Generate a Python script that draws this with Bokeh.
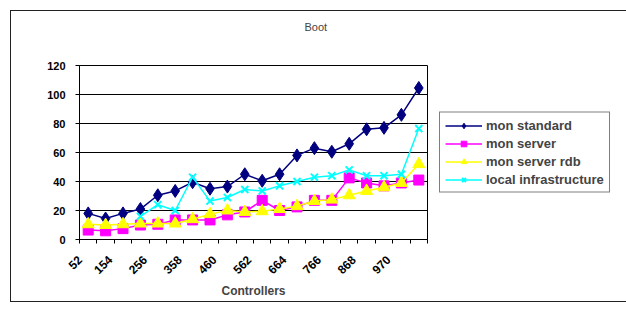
import math
from bokeh.plotting import figure
from bokeh.models import FixedTicker, Legend, LegendItem, Range1d, Title
from bokeh.embed import file_html
from bokeh.resources import INLINE

controllers = [52, 103, 154, 205, 256, 307, 358, 409, 460, 511,
               562, 613, 664, 715, 766, 817, 868, 919, 970, 1021]
mon_standard = [18, 14.5, 18, 21, 30.5, 33.5, 39.5, 35, 36.5, 45,
                40.5, 45, 58, 63, 60.5, 66, 76, 77, 86, 104.5]
mon_server = [6.5, 6, 7.5, 10, 10.5, 13.5, 13.5, 13.5, 17, 19,
              27, 20, 22.5, 27, 27, 42.5, 39, 37, 39, 41]
mon_server_rdb = [10.5, 10, 10.5, 11, 11, 11, 14, 17.5, 20, 19,
                  19.5, 21, 23, 26.5, 27.5, 30.5, 33.5, 36, 39, 52]
local_infrastructure = [float("nan"), float("nan"), float("nan"), 16, 24, 20, 43, 26.5, 29, 34.5,
                        33.5, 37, 40, 43, 44, 48, 44, 44, 45, 76.5]
y_ticks = [0, 20, 40, 60, 80, 100, 120]

FONT = "Liberation Sans"
xs = list(range(len(controllers)))

p = figure(frame_width=348, frame_height=174, output_backend="svg", toolbar_location=None,
           x_range=Range1d(-0.5, len(controllers) - 0.5), y_range=Range1d(0, 120),
           min_border_left=68, min_border_right=196, min_border_top=54, min_border_bottom=57)
p.styles = {"margin-left": "10px", "margin-top": "10px",
            "border-left": "1px solid #222", "border-top": "1px solid #222",
            "border-bottom": "1px solid #222"}
p.background_fill_color = "white"
p.border_fill_color = "white"
p.outline_line_color = "black"
p.outline_line_width = 1

# chart title (outermost)
p.title.text = "Boot"
p.title.text_font = FONT
p.title.text_font_style = "normal"
p.title.text_font_size = "11px"
p.title.align = "left"
p.title.offset = 225
p.title.standoff = 0

# spacer between frame and the chart title
spacer = Title(text=" ", text_font=FONT, text_font_size="11px", standoff=19)
p.add_layout(spacer, "above")

# axes: labels sit just left of every other category, ticks at category bounds
label_pos = [max(i - 0.75, -0.49) for i in xs[::2]]
p.xaxis.ticker = FixedTicker(ticks=label_pos,
                             minor_ticks=[i - 0.5 for i in range(len(controllers) + 1)])
p.xaxis.major_label_overrides = {pos: str(controllers[i]) for pos, i in zip(label_pos, xs[::2])}
p.xaxis.major_label_orientation = math.pi / 4
p.xaxis.major_tick_out = 0
p.xaxis.major_tick_in = 0
p.xaxis.minor_tick_out = 4
p.xaxis.minor_tick_in = 0
p.xaxis.minor_tick_line_color = "black"
p.xaxis.axis_label = "Controllers"
p.xaxis.axis_label_text_font = FONT
p.xaxis.axis_label_text_font_style = "bold"
p.xaxis.axis_label_text_font_size = "12px"
p.xaxis.axis_label_standoff = 3
p.xaxis.major_label_standoff = 14

p.yaxis.ticker = FixedTicker(ticks=y_ticks)
p.yaxis.minor_tick_line_color = None
p.yaxis.major_tick_out = 4
p.yaxis.major_tick_in = 0
p.yaxis.major_label_standoff = 10

for ax in (p.xaxis, p.yaxis):
    ax.axis_line_color = "black"
    ax.major_tick_line_color = "black"
    ax.major_label_text_font = FONT
    ax.major_label_text_font_style = "bold"
    ax.major_label_text_color = "black"
p.yaxis.major_label_text_font_size = "11px"
p.xaxis.major_label_text_font_size = "12px"

p.xgrid.grid_line_color = None
p.ygrid.grid_line_color = "black"
p.ygrid.grid_line_alpha = 1

series = [
    ("mon standard", mon_standard, "#000080", "diamond", 13),
    ("mon server", mon_server, "#FF00FF", "square", 10),
    ("mon server rdb", mon_server_rdb, "#FFFF00", "triangle", 12),
    ("local infrastructure", local_infrastructure, "#00FFFF", "x", 10),
]
items = []
for name, ys, color, marker, size in series:
    r1 = p.line(xs, ys, line_color=color, line_width=1.5)
    r2 = p.scatter(xs, ys, marker=marker, size=size, fill_color=color,
                   line_color=color, line_width=2 if marker == "x" else 1)
    items.append(LegendItem(label=name, renderers=[r1, r2]))

legend = Legend(items=items, location="center_left", margin=12,
                label_text_font=FONT, label_text_font_style="bold",
                label_text_font_size="13px", glyph_width=37, glyph_height=14,
                label_standoff=4, spacing=3, padding=5,
                border_line_color="black", border_line_width=1,
                background_fill_color="white")
p.add_layout(legend, "right")

open("out.html", "w").write(file_html(p, INLINE))
